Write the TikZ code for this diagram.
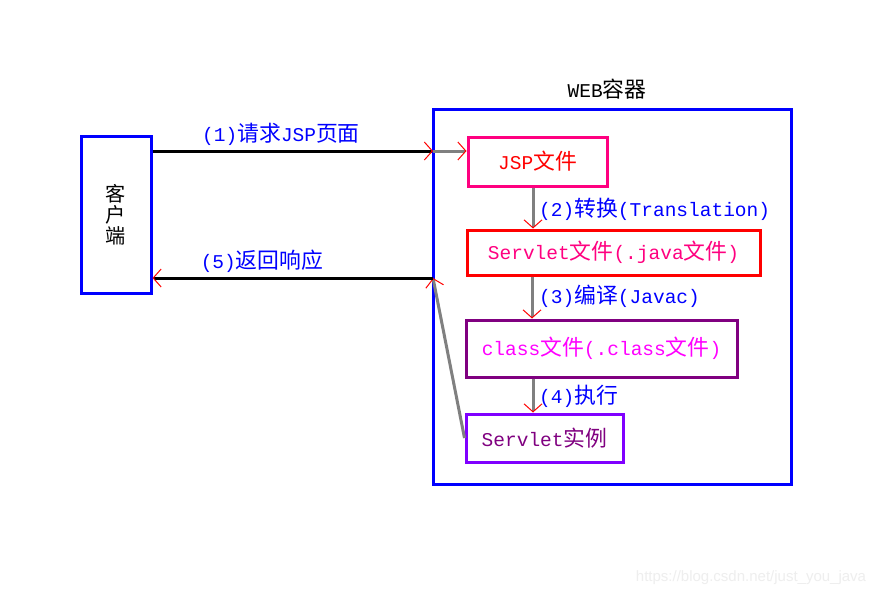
\documentclass[tikz,border=0pt]{standalone}
\usepackage{fontspec}
\setmainfont{Liberation Mono}
\setsansfont{Liberation Sans}
\newfontfamily\cjk[Scale=1.12]{Noto Sans CJK SC}
\usetikzlibrary{arrows.meta}
\newcommand\zhs[1]{{\cjk #1}}
\definecolor{myblue}{RGB}{0,0,255}
\definecolor{mypink}{RGB}{255,0,128}
\definecolor{mypurple}{RGB}{128,0,128}
\definecolor{myviolet}{RGB}{128,0,255}
\definecolor{mymagenta}{RGB}{255,0,255}
\definecolor{mygray}{RGB}{128,128,128}
\begin{document}
\begin{tikzpicture}[x=1pt,y=-1pt,
  box/.style={draw, line width=3pt, inner sep=0pt, rectangle, font=\fontsize{19.5}{22}\selectfont},
  lbl/.style={text=myblue, font=\fontsize{19.5}{22}\selectfont, inner sep=0pt},
  conn/.style={line width=3pt, -{Straight Barb[red,line width=1pt 0,length=8pt 0,width=18pt 0]}},
]
\useasboundingbox[fill=white] (0,0) rectangle (883,597);

% boxes
\node[box, draw=myblue, minimum width=70pt, minimum height=157pt, align=center,
      font=\fontsize{18}{21}\selectfont\cjk] (client) at (116,214.5) {客\\户\\端};
\node[box, draw=myblue, minimum width=358pt, minimum height=375pt] (web) at (612,296.5) {};
\node[inner sep=0pt, font=\fontsize{19.5}{22}\selectfont] (weblbl) at (607,89) {WEB\zhs{容器}};

\node[box, draw=mypink, text=red, minimum width=139pt, minimum height=49pt] (jsp) at (537.5,161.5) {JSP\zhs{文件}};
\node[box, draw=red, text=mypink, minimum width=293pt, minimum height=45pt] (servlet) at (613.5,252.5) {Servlet\zhs{文件}(.java\zhs{文件})};
\node[box, draw=mypurple, text=mymagenta, minimum width=271pt, minimum height=57pt] (class) at (601.5,348.5) {class\zhs{文件}(.class\zhs{文件})};
\node[box, draw=myviolet, text=mypurple, minimum width=157pt, minimum height=48pt] (inst) at (544.5,438) {Servlet\zhs{实例}};

% connection points on container edge
\coordinate (p1) at (433,151);
\coordinate (p5) at (433,278);

% (1) request
\draw[conn, black] (client.east |- p1) -- (p1);
\draw[conn, mygray] (p1) -- (jsp.west |- p1);
\node[lbl] (l1) at (281,134) {(1)\zhs{请求}JSP\zhs{页面}};

% (5) response
\draw[conn, mygray] (inst.west) -- (p5);
\draw[conn, black] (p5) -- (client.east |- p5);
\node[lbl] (l5) at (262,261) {(5)\zhs{返回响应}};

% internal steps
\draw[conn, mygray] (jsp.south -| 533,0) -- (servlet.north -| 533,0);
\node[lbl, anchor=west] (l2) at (539,209) {(2)\zhs{转换}(Translation)};
\draw[conn, mygray] (servlet.south -| 532,0) -- (class.north -| 532,0);
\node[lbl, anchor=west] (l3) at (539,296) {(3)\zhs{编译}(Javac)};
\draw[conn, mygray] (class.south -| 533,0) -- (inst.north -| 533,0);
\node[lbl, anchor=west] (l4) at (539,396) {(4)\zhs{执行}};

% watermark
\node[inner sep=0pt, text={rgb,255:red,238;green,238;blue,238}, font=\sffamily\fontsize{15}{18}\selectfont] (wm) at (751,578) {https://blog.csdn.net/just\_you\_java};
\end{tikzpicture}
\end{document}
